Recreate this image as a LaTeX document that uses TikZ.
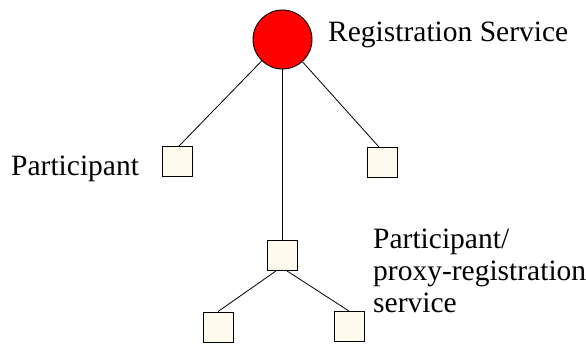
\documentclass[tikz,border=0pt]{standalone}
\usepackage{fontspec}
\setmainfont{Liberation Serif}
\definecolor{cream}{RGB}{255,250,238}
\begin{document}
\begin{tikzpicture}[x=1pt,y=-1pt,
  box/.style={draw=black,fill=cream,line width=0.9pt,minimum size=30pt,inner sep=0pt},
  svc/.style={circle,draw=black,fill=red,line width=0.9pt,minimum size=59pt,inner sep=0pt},
  lbl/.style={inner sep=0pt,font=\fontsize{29.5}{32}\selectfont},
  conn/.style={draw=black,line width=0.8pt}]
\useasboundingbox (0,0) rectangle (586,343);
\node[svc] (rs) at (282.5,39.5) {};
\node[box] (pl) at (177.5,161.5) {};
\node[box] (pr) at (382,162.5) {};
\node[box] (pm) at (282.5,255.5) {};
\node[box] (bl) at (218,327) {};
\node[box] (br) at (349,326.5) {};
\draw[conn] (rs) -- ([xshift=1.5pt]pl.north);
\draw[conn] (rs) -- ([xshift=-3pt]pr.north);
\draw[conn] (rs.south) -- (pm.north);
\draw[conn] ([xshift=-6.5pt]pm.south) -- (bl.north);
\draw[conn] ([xshift=4.5pt]pm.south) -- (br.north);
\node[lbl,anchor=base west] (trs) at (328,41.7) {Registration Service};
\node[lbl,anchor=base west] (tp) at (11,175) {Participant};
\node[lbl,anchor=base west,align=left] (tpp) at (373,312) {Participant/\\proxy-registration\\service};
\end{tikzpicture}
\end{document}
